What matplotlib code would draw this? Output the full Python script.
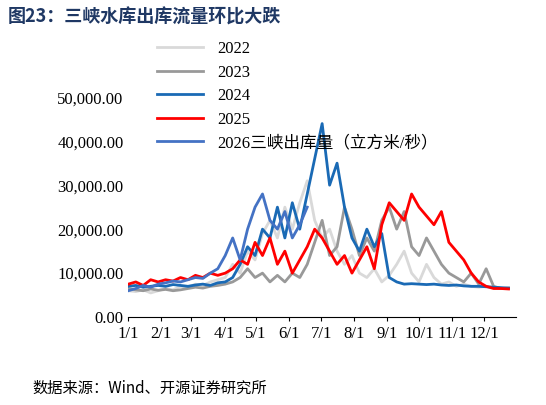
import numpy as np
import matplotlib.pyplot as plt
from matplotlib.ticker import FuncFormatter

plt.rcParams['font.family'] = ['Liberation Serif', 'Noto Sans CJK SC']

# weekly readings (day index = 7*i), discharge m3/s
s2022 = [6000, 5800, 6200, 5500, 6000, 6500, 6200, 7000, 6800, 7500, 7200, 8000, 8500,
         9000, 12000, 10000, 15000, 13000, 19000, 22000, 18000, 25000, 20000, 26000, 31000, 22000,
         18000, 20000, 15000, 12000, 14000, 10000, 9000, 11000, 8000, 9500, 12000, 15000, 10000, 8000,
         12000, 9000, 7500, 8000, 7000, 7500, 7000, 6800, 7000, 6800, 6500, 6600]
s2023 = [6500, 6200, 6000, 6400, 6100, 6300, 6000, 6200, 6500, 6800, 6600, 7000, 7200,
         7500, 8000, 9000, 11000, 9000, 10000, 8000, 9500, 8000, 10000, 9000, 12000, 17000,
         22000, 14000, 16000, 25000, 20000, 14000, 18000, 15000, 22000, 25000, 20000, 24000, 16000, 14000,
         18000, 15000, 12000, 10000, 9000, 8000, 10000, 7500, 11000, 7000, 6500, 6600]
s2024 = [7000, 7200, 6800, 7000, 7200, 7000, 7400, 7200, 7000, 7300, 7500, 7200, 7800,
         8000, 9000, 12000, 16000, 14000, 20000, 18000, 25000, 18000, 26000, 20000, 28000, 36000,
         44000, 30000, 35000, 25000, 18000, 15000, 20000, 16000, 19000, 9000, 8000, 7500, 7600, 7500,
         7400, 7500, 7300, 7200, 7300, 7100, 7000, 7000, 6900, 6800, 6700, 6600]
s2025 = [7500, 8000, 7200, 8500, 8000, 8500, 8200, 9000, 8500, 9500, 9000, 10000, 9500,
         10000, 11000, 13000, 12000, 17000, 14000, 18000, 12000, 15000, 10000, 13000, 16000, 20000,
         18000, 15000, 12000, 14000, 10000, 13000, 16000, 11000, 21000, 26000, 24000, 22000, 28000, 25000,
         23000, 21000, 24000, 17000, 15000, 13000, 10000, 8000, 7000, 6500, 6500, 6400]
s2026 = [6000, 6500, 7200, 6800, 7500, 7800, 8200, 8000, 8500, 9000, 8800, 10000, 11000,
         14000, 18000, 13000, 20000, 25000, 28000, 22000, 20000, 24000, 18000, 21000, 25000]

colors = {'2022': '#d9d9d9', '2023': '#999999', '2024': '#1a6ab5', '2025': '#ff0000',
          '2026三峡出库量（立方米/秒）': '#4472c4'}
series = {'2022': s2022, '2023': s2023, '2024': s2024, '2025': s2025,
          '2026三峡出库量（立方米/秒）': s2026}

fig = plt.figure(figsize=(5.46, 4.05), dpi=100)
ax = fig.add_axes([0.235, 0.217, 0.71, 0.543])
for name, vals in series.items():
    x = np.arange(len(vals)) * 7
    ax.plot(x, vals, color=colors[name], lw=2, label=name)

month_start = [0, 31, 59, 90, 120, 151, 181, 212, 243, 273, 304, 334]
ax.set_xticks(month_start)
ax.set_xticklabels([f'{m}/1' for m in range(1, 13)], fontsize=12)
ax.set_xlim(0, 364)
ax.set_ylim(0, 50000)
ax.set_yticks(range(0, 50001, 10000))
ax.yaxis.set_major_formatter(FuncFormatter(lambda v, p: f'{v:,.2f}'))
ax.tick_params(axis='y', length=0, labelsize=12)
ax.tick_params(axis='x', direction='out', length=3)
for s in ['top', 'right', 'left']:
    ax.spines[s].set_visible(False)

fig.legend(loc='upper left', bbox_to_anchor=(0.275, 0.915), frameon=False, fontsize=12,
           handlelength=2.8, labelspacing=0.45, borderaxespad=0)

fig.text(0.015, 0.945, '图23：三峡水库出库流量环比大跌', fontsize=13, fontweight='bold',
         color='#1f3864', family=['Noto Sans CJK SC'])
fig.text(0.06, 0.03, '数据来源：Wind、开源证券研究所', fontsize=11,
         family=['Noto Sans CJK SC'])
fig.savefig('out.png')
